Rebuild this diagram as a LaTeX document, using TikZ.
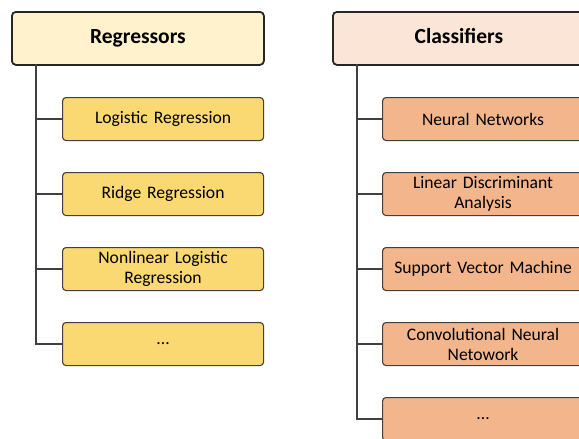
\documentclass[tikz,border=0pt]{standalone}
\usepackage{fontspec}
\setmainfont{Carlito}
\begin{document}
\begin{tikzpicture}[x=1pt,y=1pt,
  hdr/.style={draw=black!85,line width=1.8pt,rounded corners=4pt,minimum width=252pt,minimum height=53pt,text height=15pt,text depth=5pt,font=\fontsize{21.5}{24}\selectfont\bfseries,anchor=north west},
  item/.style={draw=black!75,line width=1.1pt,rounded corners=3.5pt,minimum width=201pt,minimum height=43pt,text width=196pt,align=center,font=\fontsize{17.6}{20}\selectfont,anchor=north west,inner sep=0pt},
  link/.style={draw=black!75,line width=1.2pt}]
\useasboundingbox (0,0) rectangle (579,-439);
\clip (0,0) rectangle (579,-439);
\definecolor{rh}{HTML}{FFF2CC}
\definecolor{ri}{HTML}{FAD872}
\definecolor{ch}{HTML}{FBE5D6}
\definecolor{ci}{HTML}{F3B68C}
% Regressors
\node[hdr,fill=rh] (R) at (11,-11) {Regressors};
\node[item,fill=ri] (r1) at (62,-97) {Logistic Regression};
\node[item,fill=ri] (r2) at (62,-172) {Ridge Regression};
\node[item,fill=ri] (r3) at (62,-247) {Nonlinear Logistic\\Regression};
\node[item,fill=ri] (r4) at (62,-322) {...};
\coordinate (rt) at (36,-64);
\draw[link] (rt) |- (r4.west);
\foreach \n in {r1,r2,r3} \draw[link] (\n.west) -- (\n.west -| rt);
% Classifiers
\node[hdr,fill=ch] (C) at (332,-11) {Classifiers};
\node[item,fill=ci] (c1) at (382,-97) {Neural Networks};
\node[item,fill=ci] (c2) at (382,-172) {Linear Discriminant\\Analysis};
\node[item,fill=ci] (c3) at (382,-247) {Support Vector Machine};
\node[item,fill=ci] (c4) at (382,-322) {Convolutional Neural\\Netowork};
\node[item,fill=ci] (c5) at (382,-397) {...};
\coordinate (ct) at (357,-64);
\draw[link] (ct) |- (c5.west);
\foreach \n in {c1,c2,c3,c4} \draw[link] (\n.west) -- (\n.west -| ct);
\end{tikzpicture}
\end{document}
